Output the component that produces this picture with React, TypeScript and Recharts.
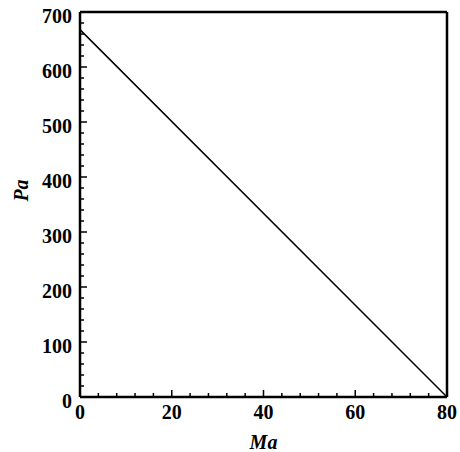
import React from 'react';
import { LineChart, Line, XAxis, YAxis, ReferenceLine } from 'recharts';

const maValues = [0, 80];
const paValues = [668, 0];
const xTicks = [0, 4, 8, 12, 16, 20, 24, 28, 32, 36, 40, 44, 48, 52, 56, 60, 64, 68, 72, 76, 80];
const yTicks = [0, 20, 40, 60, 80, 100, 120, 140, 160, 180, 200, 220, 240, 260, 280, 300, 320, 340, 360, 380, 400, 420, 440, 460, 480, 500, 520, 540, 560, 580, 600, 620, 640, 660, 680, 700];

const data = maValues.map((m, i) => ({ ma: m, pa: paValues[i] }));

const FONT = '"Liberation Serif", "DejaVu Serif", serif';

const XTick = (props: any) => {
  const { x, y, payload } = props;
  const v = payload.value;
  const major = v % 20 === 0;
  return (
    <g>
      <line x1={x} x2={x} y1={y} y2={y - (major ? 7 : 4)} stroke="#000" strokeWidth={1.5} />
      {major && (
        <text x={x} y={y + 15} textAnchor="middle" dominantBaseline="central" fontFamily={FONT} fontWeight="bold" fontSize={20} fill="#000">
          {v}
        </text>
      )}
    </g>
  );
};

const YTick = (props: any) => {
  const { x, y, payload } = props;
  const v = payload.value;
  const major = v % 100 === 0;
  return (
    <g>
      <line x1={x} x2={x + (major ? 7 : 4)} y1={y} y2={y} stroke="#000" strokeWidth={1.5} />
      {major && (
        <text x={x - 8} y={y + 4} textAnchor="end" dominantBaseline="central" fontFamily={FONT} fontWeight="bold" fontSize={20} fill="#000">
          {v}
        </text>
      )}
    </g>
  );
};

const PaLabel = (props: any) => {
  const vb = props.viewBox || {};
  const cx = (vb.x || 0) + 21;
  const cy = (vb.y || 0) + (vb.height || 0) / 2 - 14;
  return (
    <text x={cx} y={cy} transform={`rotate(-90, ${cx}, ${cy})`} textAnchor="middle" dominantBaseline="central" fontFamily={FONT} fontStyle="italic" fontWeight="bold" fontSize={20} fill="#000">
      Pa
    </text>
  );
};

export default function App() {
  return (
    <div style={{ position: 'absolute', left: 0, top: 0, width: 460, height: 452, background: '#fff' }}>
      <LineChart width={460} height={452} data={data} margin={{ top: 12, right: 13, left: 0, bottom: 0 }}>
        <XAxis
          dataKey="ma"
          type="number"
          domain={[0, 80]}
          ticks={xTicks}
          interval={0}
          height={55}
          tickSize={0}
          tickMargin={0}
          tickLine={false}
          axisLine={{ stroke: '#000', strokeWidth: 2.5 }}
          tick={<XTick />}
          label={{ value: 'Ma', position: 'insideBottom', offset: 3, style: { fontFamily: FONT, fontStyle: 'italic', fontWeight: 'bold', fontSize: 20, fill: '#000' } }}
        />
        <YAxis
          type="number"
          domain={[0, 700]}
          ticks={yTicks}
          interval={0}
          width={80}
          tickSize={0}
          tickMargin={0}
          tickLine={false}
          axisLine={{ stroke: '#000', strokeWidth: 2.5 }}
          tick={<YTick />}
          label={<PaLabel />}
        />
        <ReferenceLine y={700} stroke="#000" strokeWidth={2.5} ifOverflow="visible" />
        <ReferenceLine x={80} stroke="#000" strokeWidth={2.5} ifOverflow="visible" />
        <Line dataKey="pa" stroke="#000" strokeWidth={1.5} dot={false} isAnimationActive={false} />
      </LineChart>
    </div>
  );
}
